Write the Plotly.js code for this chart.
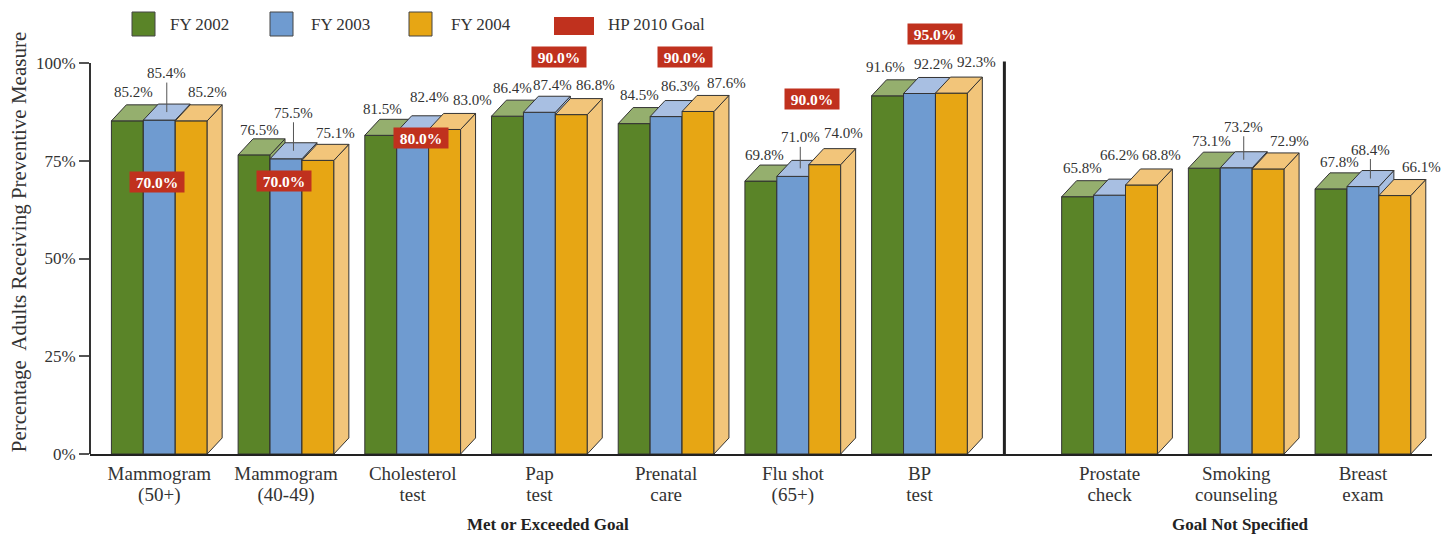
<!DOCTYPE html>
<html>
<head>
<meta charset="utf-8">
<script src="https://cdn.plot.ly/plotly-3.0.1.min.js"></script>
<style>
  html, body { margin: 0; padding: 0; background: #ffffff; }
  #chart { width: 1456px; height: 536px; }
</style>
</head>
<body>
<div id="chart"></div>
<script>
// ---------------- data ----------------
const categoriesLine1 = ['Mammogram', 'Mammogram', 'Cholesterol', 'Pap', 'Prenatal', 'Flu shot', 'BP', 'Prostate', 'Smoking', 'Breast'];
const categoriesLine2 = ['(50+)', '(40-49)', 'test', 'test', 'care', '(65+)', 'test', 'check', 'counseling', 'exam'];
const fy2002 = [85.2, 76.5, 81.5, 86.4, 84.5, 69.8, 91.6, 65.8, 73.1, 67.8];
const fy2003 = [85.4, 75.5, 82.4, 87.4, 86.3, 71.0, 92.2, 66.2, 73.2, 68.4];
const fy2004 = [85.2, 75.1, 83.0, 86.8, 87.6, 74.0, 92.3, 68.8, 72.9, 66.1];
const hp2010Goal = [70.0, 70.0, 80.0, 90.0, 90.0, 90.0, 95.0, null, null, null];
const seriesNames = ['FY 2002', 'FY 2003', 'FY 2004'];
const goalName = 'HP 2010 Goal';
const groupTitles = ['Met or Exceeded Goal', 'Goal Not Specified'];
const yTickVals = [0, 25, 50, 75, 100];
const yTickText = ['0%', '25%', '50%', '75%', '100%'];
const yTitle = 'Percentage&nbsp; Adults Receiving Preventive Measure';

// ---------------- layout / style ----------------
const groupPos = [0, 1, 2, 3, 4, 5, 6, 7.5, 8.5, 9.5];
const BW = 0.252;     // bar width (x units)
const DX = 0.118;     // 3D depth, x units
const DY = 4.1;       // 3D depth, y units
const frontColors = ['#5A8428', '#6F9BD0', '#E7A614'];
const topColors   = ['#95AF6E', '#A8BFE2', '#F2C57A'];
const edge = '#333333';
const goalRed = '#C0311E';
const textColor = '#333333';
const FONT = 'Liberation Serif, Times New Roman, serif';

// label offsets in px (relative to front-top centre of each bar)
const labelShiftX = [
  [6, 5, 2, 5, 5.5, 3.5, -2.5, 5, 7, 8],
  [0, 0, 17, 13, 14.5, 0, 13.5, 9.5, 0, 0],
  [16.5, 18, 28, 24, 28, 18.5, 25.5, 20, 21.5, 27]
];
const labelShiftY = [
  [29, 25, 26, 28, 28.6, 26, 28.8, 28.7, 27, 27],
  [0, 0, 35, 27, 30.6, 0, 29.5, 40, 0, 0],
  [29, 27, 29.5, 29.6, 28.5, 31.7, 31, 30, 28, 28.6]
];
// blue labels with a leader line: arrow length (px, upward)
const leaderLen = [39, 38, null, null, null, 31, null, null, 33, 29];
const goalShiftX = [-2, -2, 8, 20, 19, 19, 15.5];
const goalShiftY = [-2, -1, 3, 44.6, 44.6, 3, 49];

const series = [fy2002, fy2003, fy2004];
const traces = [];

function barCenter(i, s) { return groupPos[i] + (s - 1) * BW; }

series.forEach((vals, s) => {
  const ax = s === 0 ? '' : String(s + 1);
  // front faces
  traces.push({
    type: 'bar', name: seriesNames[s],
    x: groupPos, y: vals,
    width: BW, offset: -1.5 * BW + s * BW,
    marker: { color: frontColors[s], line: { color: edge, width: 1 } },
    xaxis: 'x' + ax, yaxis: 'y' + ax,
    hoverinfo: 'skip', showlegend: false
  });
  // side faces
  const sx = [], sy = [];
  vals.forEach((v, i) => {
    const x1 = barCenter(i, s) + BW / 2;
    sx.push(x1, x1 + DX, x1 + DX, x1, x1, null);
    sy.push(0, DY, v + DY, v, 0, null);
  });
  traces.push({
    type: 'scatter', mode: 'lines', x: sx, y: sy, fill: 'toself',
    fillcolor: topColors[s], line: { color: edge, width: 1 },
    xaxis: 'x' + ax, yaxis: 'y' + ax, hoverinfo: 'skip', showlegend: false
  });
  // top faces
  const tx = [], ty = [];
  vals.forEach((v, i) => {
    const x0 = barCenter(i, s) - BW / 2, x1 = x0 + BW;
    tx.push(x0, x1, x1 + DX, x0 + DX, x0, null);
    ty.push(v, v, v + DY, v + DY, v, null);
  });
  traces.push({
    type: 'scatter', mode: 'lines', x: tx, y: ty, fill: 'toself',
    fillcolor: topColors[s], line: { color: edge, width: 1 },
    xaxis: 'x' + ax, yaxis: 'y' + ax, hoverinfo: 'skip', showlegend: false
  });
});

// ---------------- annotations ----------------
const annotations = [];
series.forEach((vals, s) => {
  vals.forEach((v, i) => {
    const txt = v.toFixed(1) + '%';
    if (s === 1 && leaderLen[i]) {
      annotations.push({
        x: barCenter(i, s) + DX / 2, y: v + DY / 2, xref: 'x', yref: 'y',
        text: txt, showarrow: true, arrowhead: 0, arrowwidth: 1, arrowcolor: '#555',
        ax: 0, ay: -leaderLen[i],
        font: { family: FONT, size: 15, color: textColor }
      });
    } else {
      annotations.push({
        x: barCenter(i, s), y: v, xref: 'x', yref: 'y',
        text: txt, showarrow: false, xanchor: 'center', yanchor: 'middle',
        xshift: labelShiftX[s][i], yshift: labelShiftY[s][i],
        font: { family: FONT, size: 15, color: textColor }
      });
    }
  });
});
hp2010Goal.forEach((g, i) => {
  if (g === null) return;
  annotations.push({
    x: groupPos[i], y: g, xref: 'x', yref: 'y',
    text: '<b>' + g.toFixed(1) + '%</b>', showarrow: false,
    xanchor: 'center', yanchor: 'middle',
    xshift: goalShiftX[i], yshift: goalShiftY[i],
    bgcolor: goalRed, width: 52, height: 18, borderpad: 1,
    font: { family: FONT, size: 15.5, color: '#ffffff' }
  });
});
// group titles
annotations.push({
  x: 3.07, y: 0, xref: 'x', yref: 'paper', text: '<b>' + groupTitles[0] + '</b>',
  showarrow: false, xanchor: 'center', yanchor: 'top', yshift: -59,
  font: { family: FONT, size: 17, color: '#222' }
});
annotations.push({
  x: 8.53, y: 0, xref: 'x', yref: 'paper', text: '<b>' + groupTitles[1] + '</b>',
  showarrow: false, xanchor: 'center', yanchor: 'top', yshift: -59,
  font: { family: FONT, size: 17, color: '#222' }
});

// ---------------- legend (custom) ----------------
const L = 90, T = 30, W = 1342, H = 424;
const px2x = px => (px - L) / W;
const py2y = py => (T + H - py) / H;
const shapes = [];
const legendItems = [
  { name: seriesNames[0], color: frontColors[0], x0: 132, x1: 155, y0: 12, y1: 36, tx: 168, line: true },
  { name: seriesNames[1], color: frontColors[1], x0: 270, x1: 293, y0: 12, y1: 36, tx: 309, line: true },
  { name: seriesNames[2], color: frontColors[2], x0: 409, x1: 432, y0: 12, y1: 36, tx: 449, line: true },
  { name: goalName, color: goalRed, x0: 554, x1: 594, y0: 17, y1: 35, tx: 606, line: false }
];
legendItems.forEach(it => {
  shapes.push({
    type: 'rect', xref: 'paper', yref: 'paper',
    x0: px2x(it.x0), x1: px2x(it.x1), y0: py2y(it.y1), y1: py2y(it.y0),
    fillcolor: it.color, line: { color: it.line ? '#444' : it.color, width: it.line ? 1 : 0 }
  });
  annotations.push({
    x: px2x(it.tx), y: py2y(25), xref: 'paper', yref: 'paper', text: it.name,
    showarrow: false, xanchor: 'left', yanchor: 'middle',
    font: { family: FONT, size: 17, color: textColor }
  });
});
// y axis line from 0 to 100
shapes.push({ type: 'line', xref: 'paper', yref: 'y', x0: 0, x1: 0, y0: 0, y1: 100,
  line: { color: '#333', width: 2 } });
// divider between the two groups
shapes.push({ type: 'line', xref: 'x', yref: 'y', x0: 6.67, x1: 6.67, y0: -0.6, y1: 100.4,
  line: { color: '#222', width: 3 } });

// two-line category labels: smaller base font gives tighter line spacing
const big = t => '<span style="font-size:19px">' + t + '</span>';
const xTickText = categoriesLine1.map((t, i) => big(t) + '<br>' + big(categoriesLine2[i]));

const xRange = [-0.547, 10.045];
const yRange = [0, 108.44];
const layout = {
  width: 1456, height: 536,
  margin: { l: L, r: 1456 - L - W, t: T, b: 536 - T - H },
  paper_bgcolor: '#ffffff', plot_bgcolor: '#ffffff',
  font: { family: FONT, color: textColor },
  barmode: 'overlay', showlegend: false,
  xaxis: {
    range: xRange, showgrid: false, zeroline: false,
    showline: true, linecolor: '#222', linewidth: 2,
    tickmode: 'array', tickvals: groupPos, ticktext: xTickText,
    ticks: '', tickfont: { family: FONT, size: 16.5, color: textColor },
    ticklabelstandoff: 4,
    fixedrange: true
  },
  yaxis: {
    range: yRange, showgrid: false, zeroline: false, showline: false,
    tickmode: 'array', tickvals: yTickVals, ticktext: yTickText,
    ticks: 'outside', ticklen: 10, tickwidth: 2, tickcolor: '#555',
    tickfont: { family: FONT, size: 17, color: textColor },
    title: { text: yTitle, font: { family: FONT, size: 21, color: textColor }, standoff: 3 },
    fixedrange: true
  },
  xaxis2: { range: xRange, overlaying: 'x', anchor: 'y2', visible: false, fixedrange: true },
  yaxis2: { range: yRange, overlaying: 'y', anchor: 'x2', visible: false, fixedrange: true },
  xaxis3: { range: xRange, overlaying: 'x', anchor: 'y3', visible: false, fixedrange: true },
  yaxis3: { range: yRange, overlaying: 'y', anchor: 'x3', visible: false, fixedrange: true },
  annotations: annotations,
  shapes: shapes
};

Plotly.newPlot('chart', traces, layout, { staticPlot: true, displayModeBar: false });
</script>
</body>
</html>
